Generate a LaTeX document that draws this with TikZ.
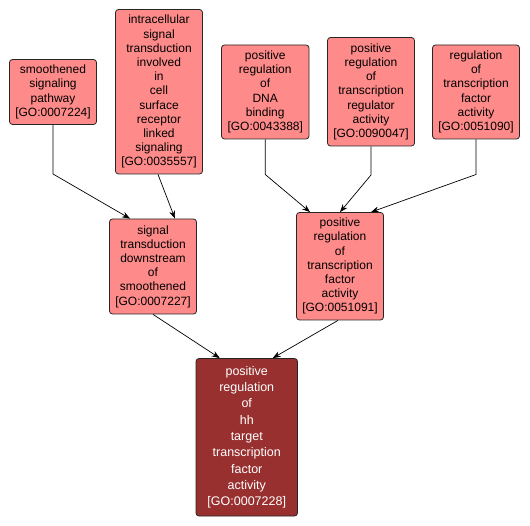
\documentclass[tikz,border=0pt]{standalone}
\usepackage{fontspec}
\setmainfont{Liberation Sans}
\usetikzlibrary{arrows.meta}
\definecolor{lightfill}{RGB}{255,138,138}
\definecolor{darkfill}{RGB}{153,48,48}
\begin{document}
\begin{tikzpicture}[x=1pt,y=-1pt,
  term/.style={draw=black!85, line width=0.8pt, fill=lightfill, rounded corners=3pt,
    align=center, inner sep=0pt, minimum width=87pt,
    font=\fontsize{12}{14.2}\selectfont, text=black},
  focus/.style={draw=black!85, line width=0.8pt, fill=darkfill, rounded corners=3pt,
    align=center, inner sep=0pt, minimum width=101.5pt,
    font=\fontsize{12.5}{16.3}\selectfont, text=white},
  edge/.style={draw=black, line width=0.7pt, -{Stealth[length=8pt,width=6pt]}}]
\useasboundingbox (0,0) rectangle (530,526);
\node[term, minimum height=65pt] (A) at (53,92) {smoothened\\signaling\\pathway\\{[GO:0007224]}};
\node[term, minimum height=164.5pt] (B) at (159,91.75) {intracellular\\signal\\transduction\\involved\\in\\cell\\surface\\receptor\\linked\\signaling\\{[GO:0035557]}};
\node[term, minimum height=94pt, minimum width=87.5pt] (C) at (265.25,92) {positive\\regulation\\of\\DNA\\binding\\{[GO:0043388]}};
\node[term, minimum height=108.5pt] (D) at (371,91.75) {positive\\regulation\\of\\transcription\\regulator\\activity\\{[GO:0090047]}};
\node[term, minimum height=94pt] (E) at (476,92) {regulation\\of\\transcription\\factor\\activity\\{[GO:0051090]}};
\node[term, minimum height=95pt] (F) at (153,266.5) {signal\\transduction\\downstream\\of\\smoothened\\{[GO:0007227]}};
\node[term, minimum height=107.5pt] (G) at (340,266.25) {positive\\regulation\\of\\transcription\\factor\\activity\\{[GO:0051091]}};
\node[focus, minimum height=157.5pt] (H) at (246.75,437.25) {positive\\regulation\\of\\hh\\target\\transcription\\factor\\activity\\{[GO:0007228]}};
\coordinate (bA) at (53,174);
\coordinate (bC) at (265.25,174.5);
\coordinate (bD) at (371,175);
\coordinate (bE) at (476,174.5);
\draw[edge] (A.south) -- (bA) -- ([xshift=-23pt]F.north);
\draw[edge] ([xshift=-1pt]B.south) -- ([xshift=22pt]F.north);
\draw[edge] (C.south) -- (bC) -- ([xshift=-30pt]G.north);
\draw[edge] (D.south) -- (bD) -- (G.north);
\draw[edge] (E.south) -- (bE) -- ([xshift=31pt]G.north);
\draw[edge] (F.south) -- ([xshift=-27pt]H.north);
\draw[edge] ([xshift=-2pt]G.south) -- ([xshift=26pt]H.north);
\end{tikzpicture}
\end{document}
